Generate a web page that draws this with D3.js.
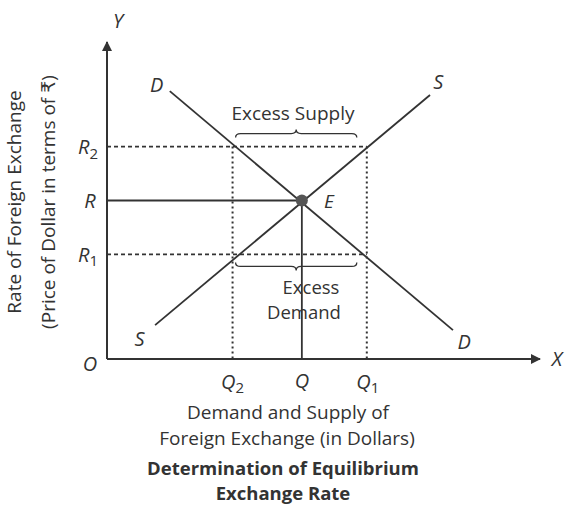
<!DOCTYPE html>
<html>
<head>
<meta charset="utf-8">
<script src="https://cdn.jsdelivr.net/npm/d3@7"></script>
<style>
  body { margin: 0; background: #fff; }
  svg text { font-family: "Open Sans", "DejaVu Sans", sans-serif; fill: #333; }
</style>
</head>
<body>
<div id="chart"></div>
<script>
// quantities (x) and rates (y) on a 0..100 scale
var quantities = { Q2: 29, Q: 45, Q1: 60 };
var rates = { R1: 33, R: 50, R2: 67 };
var demandCurve = [[14.5, 84.5], [79.9, 9.1]];
var supplyCurve = [[11.1, 10.7], [74.6, 83.3]];
var curveLabels = [
  { t: "D", p: [11.5, 86.5] }, { t: "D", p: [82.5, 5.5] },
  { t: "S", p: [7.5, 6.5] },   { t: "S", p: [76.5, 87.5] }
];

var width = 567, height = 514;
var x = d3.scaleLinear().domain([0, 100]).range([107, 540]);
var y = d3.scaleLinear().domain([0, 100]).range([359, 42]);
var ink = "#333";

var svg = d3.select("#chart").append("svg")
  .attr("width", width).attr("height", height);

var defs = svg.append("defs");
defs.append("marker").attr("id", "arrow")
  .attr("viewBox", "0 0 10 10").attr("refX", 9).attr("refY", 5)
  .attr("markerWidth", 13).attr("markerHeight", 10).attr("orient", "auto")
  .attr("markerUnits", "userSpaceOnUse")
  .append("path").attr("d", "M0,0 L10,5 L0,10 z").attr("fill", ink);

// axes
svg.append("line").attr("x1", x(0)).attr("y1", y(0)).attr("x2", x(0)).attr("y2", y(100))
  .attr("stroke", ink).attr("stroke-width", 2).attr("marker-end", "url(#arrow)");
svg.append("line").attr("x1", x(0)).attr("y1", y(0)).attr("x2", x(100)).attr("y2", y(0))
  .attr("stroke", ink).attr("stroke-width", 2).attr("marker-end", "url(#arrow)");

// dashed rate guides
[["R2", "Q1"], ["R1", "Q1"]].forEach(function(k){
  svg.append("line")
    .attr("x1", x(0)).attr("x2", x(quantities[k[1]]))
    .attr("y1", y(rates[k[0]])).attr("y2", y(rates[k[0]]))
    .attr("stroke", ink).attr("stroke-width", 1.6).attr("stroke-dasharray", "4,3");
});
// dotted quantity guides
["Q2", "Q1"].forEach(function(k){
  svg.append("line")
    .attr("x1", x(quantities[k])).attr("x2", x(quantities[k]))
    .attr("y1", y(rates.R2)).attr("y2", y(0))
    .attr("stroke", ink).attr("stroke-width", 2).attr("stroke-dasharray", "2,3");
});

// equilibrium lines
svg.append("line").attr("x1", x(0)).attr("x2", x(quantities.Q))
  .attr("y1", y(rates.R)).attr("y2", y(rates.R)).attr("stroke", ink).attr("stroke-width", 1.8);
svg.append("line").attr("x1", x(quantities.Q)).attr("x2", x(quantities.Q))
  .attr("y1", y(rates.R)).attr("y2", y(0)).attr("stroke", ink).attr("stroke-width", 1.8);

// demand and supply curves
var line = d3.line().x(function(d){ return x(d[0]); }).y(function(d){ return y(d[1]); });
[demandCurve, supplyCurve].forEach(function(c){
  svg.append("path").attr("d", line(c)).attr("fill", "none")
    .attr("stroke", ink).attr("stroke-width", 1.8);
});

svg.append("circle").attr("cx", x(quantities.Q)).attr("cy", y(rates.R)).attr("r", 6)
  .attr("fill", "#555");

// braces
function brace(x0, x1, yy, dir){
  var m = (x0 + x1) / 2, p = d3.path();
  p.moveTo(x0, yy + 4 * dir);
  p.quadraticCurveTo(x0, yy, x0 + 5, yy);
  p.lineTo(m - 5, yy);
  p.quadraticCurveTo(m, yy, m, yy - 4 * dir);
  p.quadraticCurveTo(m, yy, m + 5, yy);
  p.lineTo(x1 - 5, yy);
  p.quadraticCurveTo(x1, yy, x1, yy + 4 * dir);
  return p.toString();
}
svg.append("path").attr("d", brace(x(quantities.Q2) + 3, x(quantities.Q1) - 10, y(rates.R2) - 13, 1))
  .attr("fill", "none").attr("stroke", ink).attr("stroke-width", 1.3);
svg.append("path").attr("d", brace(x(quantities.Q2) + 3, x(quantities.Q1) - 10, y(rates.R1) + 12, -1))
  .attr("fill", "none").attr("stroke", ink).attr("stroke-width", 1.3);

var txt = function(s, px, py, opt){
  opt = opt || {};
  return svg.append("text").attr("x", px).attr("y", py).text(s)
    .attr("text-anchor", opt.anchor || "middle")
    .attr("dominant-baseline", "central")
    .style("font-size", (opt.size || 18) + "px")
    .style("font-style", opt.italic ? "italic" : "normal")
    .style("font-weight", opt.bold ? 700 : 400);
};

txt("Excess Supply", 293, 113, { size: 19 });
txt("Excess", 311, 286, { size: 18.5 });
txt("Demand", 304, 311, { size: 18.5 });

curveLabels.forEach(function(l){ txt(l.t, x(l.p[0]), y(l.p[1]), { italic: true, size: 20 }); });
txt("E", x(quantities.Q) + 27, y(rates.R), { italic: true, size: 19 });

// rate labels
function subLabel(main, sub, px, py){
  var t = txt(main, px, py, { italic: true, size: 20 });
  if (sub) t.append("tspan").text(sub).attr("dy", 6).style("font-size", "15px").style("font-style", "normal");
}
subLabel("R", "2", 88, y(rates.R2));
subLabel("R", "", 90, y(rates.R));
subLabel("R", "1", 88, y(rates.R1));
subLabel("O", "", 90, y(0) + 4);
subLabel("Q", "2", x(quantities.Q2), 381);
subLabel("Q", "", x(quantities.Q), 380);
subLabel("Q", "1", x(quantities.Q1) + 1, 381);
txt("Y", 118, 20, { italic: true, size: 20 });
txt("X", 557, 358, { italic: true, size: 20 });

// axis titles
var yt = svg.append("g").attr("transform", "translate(31,202) rotate(-90)");
yt.append("text").attr("x", 0).attr("y", -10).attr("text-anchor", "middle")
  .style("font-size", "19px").text("Rate of Foreign Exchange");
yt.append("text").attr("x", 0).attr("y", 8).attr("text-anchor", "middle")
  .attr("dominant-baseline", "hanging").style("font-size", "19px")
  .text("(Price of Dollar in terms of ₹)");

txt("Demand and Supply of", 288, 412, { size: 19 });
txt("Foreign Exchange (in Dollars)", 287, 438, { size: 19 });
txt("Determination of Equilibrium", 283, 467, { size: 18.5, bold: true });
txt("Exchange Rate", 283, 492, { size: 18.5, bold: true });
</script>
</body>
</html>
